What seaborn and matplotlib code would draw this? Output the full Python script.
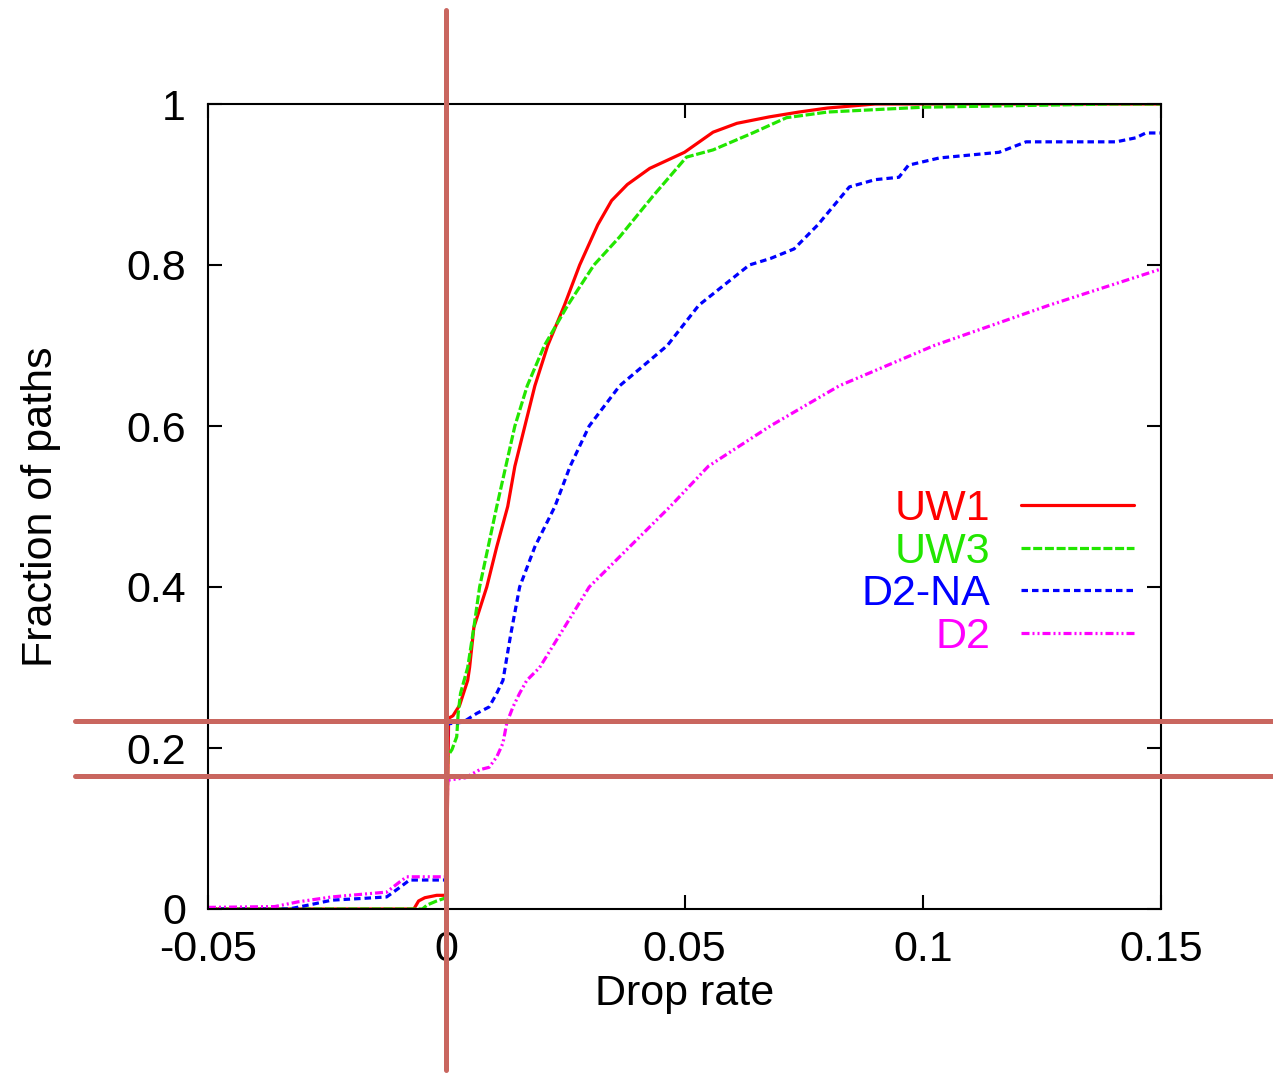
import numpy as np
import pandas as pd
import matplotlib
matplotlib.use("Agg")
import matplotlib.pyplot as plt
import matplotlib.transforms as mtransforms
import seaborn as sns

# ---------------- data ----------------
uw1_x = [-0.05, -0.0068, -0.0058, -0.0045, -0.002, 0.0, 0.0005, 0.0014, 0.0028, 0.0045,
         0.0049, 0.0058, 0.0085, 0.0106, 0.0129, 0.0144, 0.0165, 0.0186, 0.0213, 0.0248,
         0.028, 0.0318, 0.0347, 0.038, 0.0427, 0.050, 0.056, 0.061, 0.0678, 0.074, 0.080,
         0.090, 0.15]
uw1_y = [0.0, 0.0, 0.010, 0.014, 0.017, 0.017, 0.237, 0.240, 0.253, 0.284,
         0.30, 0.35, 0.40, 0.45, 0.50, 0.55, 0.60, 0.65, 0.70, 0.75,
         0.80, 0.85, 0.88, 0.90, 0.92, 0.94, 0.965, 0.976, 0.984, 0.99, 0.995,
         1.0, 1.0]

uw3_x = [-0.05, -0.005, -0.004, -0.002, -0.0005, 0.0, 0.0003, 0.0012, 0.0022, 0.0025,
         0.003, 0.0045, 0.0058, 0.007, 0.0088, 0.0106, 0.0125, 0.0144, 0.017, 0.0206,
         0.0255, 0.031, 0.0364, 0.0433, 0.0504, 0.056, 0.0643, 0.0714, 0.080, 0.100,
         0.140, 0.15]
uw3_y = [0.0, 0.0, 0.005, 0.010, 0.013, 0.015, 0.19, 0.198, 0.214, 0.243,
         0.268, 0.30, 0.35, 0.40, 0.45, 0.50, 0.55, 0.60, 0.65, 0.70,
         0.75, 0.80, 0.835, 0.885, 0.934, 0.943, 0.964, 0.983, 0.99, 0.996,
         1.0, 1.0]

d2na_x = [-0.05, -0.033, -0.028, -0.024, -0.018, -0.0125, -0.0097, -0.0077, 0.0, 0.0003,
          0.0035, 0.0064, 0.009, 0.0106, 0.0119, 0.0135, 0.0154, 0.0186, 0.0228, 0.026,
          0.030, 0.0364, 0.0464, 0.053, 0.0636, 0.068, 0.073, 0.078, 0.0846, 0.090,
          0.095, 0.097, 0.1035, 0.116, 0.1217, 0.1406, 0.1447, 0.1468, 0.15]
d2na_y = [0.0, 0.0, 0.006, 0.011, 0.013, 0.015, 0.027, 0.036, 0.036, 0.230,
          0.232, 0.243, 0.251, 0.268, 0.284, 0.34, 0.40, 0.45, 0.50, 0.55,
          0.60, 0.65, 0.70, 0.75, 0.80, 0.808, 0.82, 0.85, 0.897, 0.906,
          0.909, 0.924, 0.933, 0.940, 0.953, 0.953, 0.958, 0.964, 0.964]

d2_x = [-0.05, -0.036, -0.031, -0.024, -0.0125, -0.0097, -0.0083, 0.0, 0.0003, 0.004,
        0.007, 0.009, 0.0106, 0.0119, 0.0127, 0.014, 0.0154, 0.0169, 0.0196, 0.0248,
        0.030, 0.0385, 0.047, 0.055, 0.068, 0.0825, 0.1024, 0.1265, 0.15]
d2_y = [0.002, 0.003, 0.009, 0.015, 0.021, 0.034, 0.040, 0.040, 0.160, 0.163,
        0.173, 0.176, 0.189, 0.206, 0.231, 0.251, 0.268, 0.284, 0.30, 0.35,
        0.40, 0.45, 0.50, 0.55, 0.60, 0.65, 0.70, 0.75, 0.795]

series_names = ["UW1", "UW3", "D2-NA", "D2"]
series_x = [uw1_x, uw3_x, d2na_x, d2_x]
series_y = [uw1_y, uw3_y, d2na_y, d2_y]

x_ticks = [-0.05, 0, 0.05, 0.1, 0.15]
x_tick_labels = ["-0.05", "0", "0.05", "0.1", "0.15"]
y_ticks = [0, 0.2, 0.4, 0.6, 0.8, 1]
y_tick_labels = ["0", "0.2", "0.4", "0.6", "0.8", "1"]

# annotation marks (the reddish guide lines)
guide_x = 0.0
guide_y = [0.2335, 0.165]

# ---------------- style ----------------
sns.set_style("ticks")
plt.rcParams["font.family"] = ["Liberation Sans", "DejaVu Sans"]
plt.rcParams["lines.scale_dashes"] = False
for k in ["text.color", "axes.labelcolor", "xtick.color", "ytick.color", "axes.edgecolor"]:
    plt.rcParams[k] = "black"

colors = ["#ff0000", "#22e600", "#0000ff", "#ff00ff"]
px = 0.72  # points per pixel at 100 dpi
dash_patterns = [None,
                 (9 * px, 2.7 * px),
                 (6.5 * px, 4 * px),
                 (8 * px, 3 * px, 2 * px, 3 * px, 2 * px, 3 * px)]

FS = 31

fig = plt.figure(figsize=(12.73, 10.76), dpi=100)
ax = fig.add_axes([208 / 1273, 1 - 909 / 1076, (1161 - 208) / 1273, (909 - 104) / 1076])

# faint zero axis line
ax.axvline(0, color="#33cccc", lw=1, ls=(0, (1, 3)), zorder=1)

handles = []
for name, xs, ys, col, dash in zip(series_names, series_x, series_y, colors, dash_patterns):
    df = pd.DataFrame({"x": xs, "y": ys})
    sns.lineplot(data=df, x="x", y="y", ax=ax, color=col, lw=2.3,
                 sort=False, estimator=None, label=name)
    line = ax.lines[-1]
    if dash is not None:
        line.set_dashes(dash)
    handles.append(line)

ax.set_xlim(-0.05, 0.15)
ax.set_ylim(0, 1)
ax.set_xticks(x_ticks)
ax.set_xticklabels(x_tick_labels)
ax.set_yticks(y_ticks)
ax.set_yticklabels(y_tick_labels)
ax.tick_params(axis="both", which="both", direction="in", length=10, width=1.5,
               labelsize=FS, top=True, right=True)
ax.tick_params(axis="x", pad=15)
ax.tick_params(axis="y", pad=16)
for s in ax.spines.values():
    s.set_visible(True)
    s.set_linewidth(1.5)
    s.set_color("black")

ax.set_xlabel("Drop rate", fontsize=FS, labelpad=3)
ax.set_ylabel("Fraction of paths", fontsize=FS, labelpad=47)

leg = ax.legend(handles=handles, labels=series_names, markerfirst=False,
                labelcolor="linecolor", frameon=False, fontsize=FS,
                handlelength=2.63, handletextpad=0.7, labelspacing=0.06,
                borderpad=0, borderaxespad=0,
                loc="upper right", bbox_to_anchor=(1134 / 1273, 1 - 489 / 1076),
                bbox_transform=fig.transFigure)

# guide lines drawn across the figure
guide_col = "#c9665f"
tv = mtransforms.blended_transform_factory(ax.transData, fig.transFigure)
ax.plot([guide_x, guide_x], [1 - 10 / 1076, 1 - 1070 / 1076], transform=tv,
        color=guide_col, lw=3.6, clip_on=False, zorder=10)
th = mtransforms.blended_transform_factory(fig.transFigure, ax.transData)
for gy in guide_y:
    ax.plot([75 / 1273, 1.0], [gy, gy], transform=th, color=guide_col, lw=3.6,
            clip_on=False, zorder=10)

fig.savefig("out.png", dpi=100)
